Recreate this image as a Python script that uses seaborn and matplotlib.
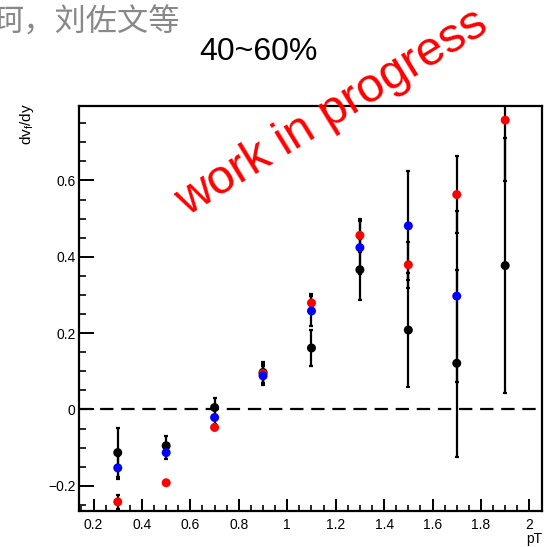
import numpy as np
import pandas as pd
import matplotlib
matplotlib.use("Agg")
import matplotlib.pyplot as plt
from matplotlib.ticker import MultipleLocator, FuncFormatter
import seaborn as sns

# ---------------- data ----------------
pT = [0.3, 0.5, 0.7, 0.9, 1.1, 1.3, 1.5, 1.7, 1.9]

black_v = [-0.113, -0.095, 0.005, 0.097, 0.161, 0.366, 0.208, 0.121, 0.377]
black_e = [0.065, 0.025, 0.025, 0.028, 0.046, 0.080, 0.150, 0.245, 0.333]

red_v = [-0.242, -0.192, -0.047, 0.094, 0.279, 0.456, 0.379, 0.563, 0.758]
red_e = [0.018, 0.005, 0.008, 0.025, 0.024, 0.044, 0.060, 0.100, 0.160]

blue_v = [-0.153, -0.113, -0.021, 0.088, 0.258, 0.424, 0.481, 0.297, np.nan]
blue_e = [0.030, 0.016, 0.020, 0.025, 0.040, 0.070, 0.143, 0.224, np.nan]

series_names = ["black", "red", "blue"]
series_colors = {"black": "#000000", "red": "#ff0000", "blue": "#0000ff"}

title_text = "40~60%"
author_text = "珂，刘佐文等"
ylabel_text = r"dv$_f$/dy"
xlabel_text = "pT"
watermark_text = "work in progress"

# ---------------- build table ----------------
vals = {"black": (black_v, black_e), "red": (red_v, red_e), "blue": (blue_v, blue_e)}
rows = []
for name in series_names:
    v, e = vals[name]
    for x, yy, ee in zip(pT, v, e):
        rows.append({"series": name, "pT": x, "v": yy, "err": ee})
df = pd.DataFrame(rows).dropna()

# ---------------- style ----------------
sns.set_style("white")
plt.rcParams["font.family"] = ["Liberation Sans", "Noto Sans CJK SC", "DejaVu Sans"]
plt.rcParams["mathtext.fontset"] = "custom"
plt.rcParams["mathtext.rm"] = "Liberation Sans"
plt.rcParams["mathtext.it"] = "Liberation Sans"

W, H = 550, 547
fig = plt.figure(figsize=(W / 100, H / 100), dpi=100)
ax = fig.add_axes([79 / W, 36 / H, 463 / W, 405 / H])

ax.axhline(0, color="black", lw=1.6, ls=(0, (6, 3.5)), zorder=1)

for name in series_names:
    d = df[df["series"] == name]
    ax.errorbar(d["pT"], d["v"], yerr=d["err"], fmt="none", ecolor="black",
                elinewidth=1.6, capsize=1.6, capthick=1.6, zorder=2)

sns.scatterplot(data=df, x="pT", y="v", hue="series", palette=series_colors,
                hue_order=series_names, s=42, edgecolor="none", linewidth=0,
                legend=False, ax=ax, zorder=3)

ax.set_xlim(0.14, 2.052)
ax.set_ylim(-0.266, 0.795)
ax.set_xlabel("")
ax.set_ylabel("")

ax.xaxis.set_major_locator(MultipleLocator(0.2))
ax.xaxis.set_minor_locator(MultipleLocator(0.05))
ax.yaxis.set_major_locator(MultipleLocator(0.2))
ax.yaxis.set_minor_locator(MultipleLocator(0.05))
fmt = FuncFormatter(lambda v, p: ("%g" % round(v, 3)).replace("-", "\u2212"))
ax.xaxis.set_major_formatter(fmt)
ax.yaxis.set_major_formatter(fmt)

for s in ax.spines.values():
    s.set_color("black")
    s.set_linewidth(1.6)

ax.tick_params(axis="y", which="major", direction="in", length=10.5, width=1.4,
               labelsize=10, pad=2.5, left=True, right=False, colors="black")
ax.tick_params(axis="y", which="minor", direction="in", length=5.2, width=1.4,
               left=True, right=False)
ax.tick_params(axis="x", which="major", direction="in", length=8.6, width=1.4,
               labelsize=10, pad=5, bottom=True, top=False, colors="black")
ax.tick_params(axis="x", which="minor", direction="in", length=4.3, width=1.4,
               bottom=True, top=False)

# ---------------- texts ----------------
def fx(px):
    return px / W

def fy(py):
    return 1 - py / H

fig.text(fx(258.5), fy(51.5), title_text, ha="center", va="center",
         fontsize=23, color="black")
fig.text(fx(-7), fy(22.5), author_text, ha="left", va="center",
         fontsize=22.5, color="#888888",
         family=["Noto Sans CJK SC", "DejaVu Sans"])
fig.text(fx(27), fy(103), ylabel_text, ha="center", va="top", rotation=90,
         fontsize=11, color="black")
fig.text(fx(542), fy(546), xlabel_text, ha="right", va="bottom",
         fontsize=10, color="black")
fig.text(fx(332), fy(113), watermark_text, ha="center", va="center",
         rotation=31.5, fontsize=35, color="#ff0000")

fig.savefig("out.png", dpi=100)
